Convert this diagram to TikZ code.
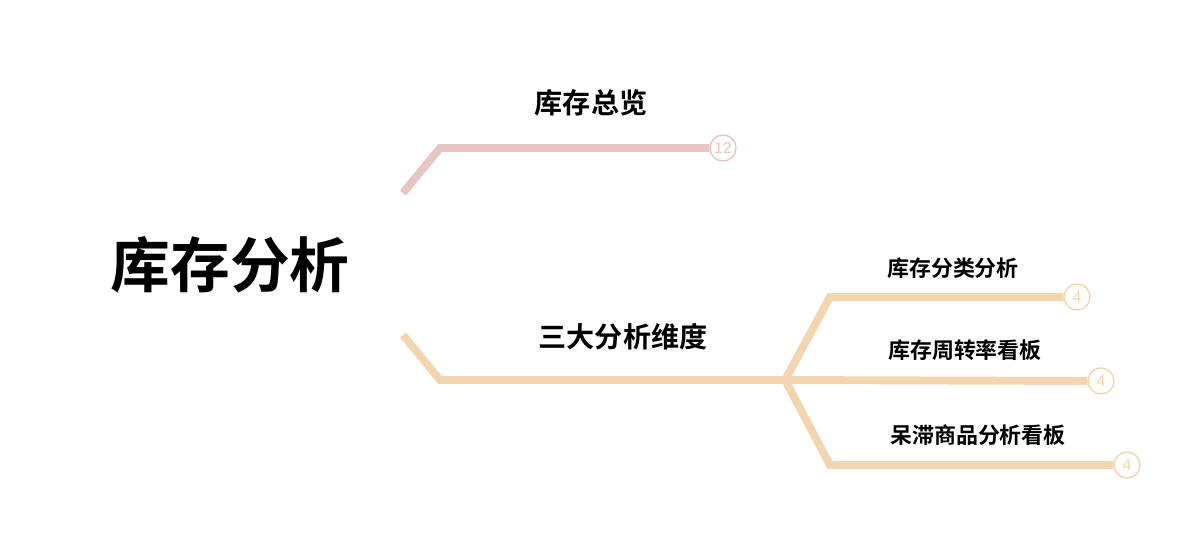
\documentclass[tikz,border=0pt]{standalone}
\usepackage{fontspec}
\newfontfamily\cjk{Noto Sans CJK SC}
\newfontfamily\cjkb{Noto Sans CJK SC Bold}
\setsansfont{Liberation Sans}
\usetikzlibrary{positioning}
\definecolor{rosebranch}{HTML}{E8C4C2}
\definecolor{sandbranch}{HTML}{F3D5B0}
\tikzset{
    branch/.style={line width=4.5pt, line join=miter},
    badge/.style={circle, draw, line width=0.8pt, fill=white, inner sep=0pt,
        minimum size=0.52cm, font=\sffamily\fontsize{9}{9}\selectfont},
    topic/.style={font=\cjkb\fontsize{16}{16}\selectfont},
    subtopic/.style={font=\cjkb\fontsize{12.5}{12.5}\selectfont},
}
\begin{document}
\begin{tikzpicture}[x=0.02cm, y=-0.02cm]
    \useasboundingbox (0,0) rectangle (1200,537);
    % Wurzel
    \node[font=\cjkb\fontsize{34}{34}\selectfont] (root) at (230,265) {库存分析};

    % Erster Ast
    \coordinate (a0) at (403,193);
    \coordinate (a1) at (440,148);
    \node[badge, draw=rosebranch, text=rosebranch] (n12) at (723,148) {12};
    \draw[branch, rosebranch] (a0) -- (a1) -- (n12.west);
    \node[topic] (overview) at (591,103) {库存总览};

    % Zweiter Ast
    \coordinate (b0) at (403,335);
    \coordinate (b1) at (440,380);
    \coordinate (fork) at (785,380);
    \draw[branch, sandbranch] (b0) -- (b1) -- (fork);
    \node[topic] (dims) at (623,337) {三大分析维度};

    % Unteraeste
    \node[badge, draw=sandbranch, text=sandbranch] (c1) at (1077,297) {4};
    \node[badge, draw=sandbranch, text=sandbranch] (c2) at (1101,381) {4};
    \node[badge, draw=sandbranch, text=sandbranch] (c3) at (1127,465) {4};
    \draw[branch, sandbranch] (fork) -- (830,297) -- (c1.west);
    \draw[branch, sandbranch] (fork) -- (c2.west);
    \draw[branch, sandbranch] (fork) -- (830,465) -- (c3.west);
    \node[subtopic] (l1) at (953,268) {库存分类分析};
    \node[subtopic] (l2) at (965,350) {库存周转率看板};
    \node[subtopic] (l3) at (978,435) {呆滞商品分析看板};
\end{tikzpicture}
\end{document}
